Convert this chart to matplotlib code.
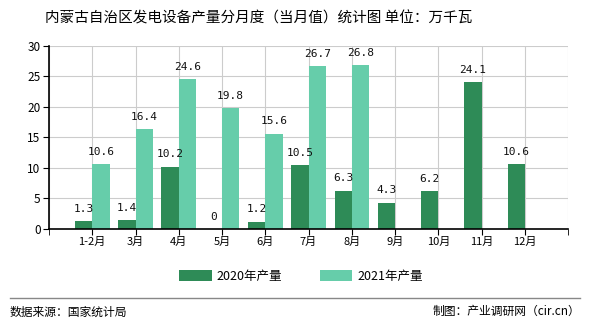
import matplotlib
matplotlib.use("Agg")
import matplotlib.pyplot as plt
import numpy as np

plt.rcParams['font.family'] = ['Noto Sans CJK SC', 'DejaVu Sans']

# monthly output, 10k kW
months = ['1-2月', '3月', '4月', '5月', '6月', '7月', '8月', '9月', '10月', '11月', '12月']
output_2020 = [1.3, 1.4, 10.2, 0, 1.2, 10.5, 6.3, 4.3, 6.2, 24.1, 10.6]
output_2021 = [10.6, 16.4, 24.6, 19.8, 15.6, 26.7, 26.8]

dark = '#2e8b57'
light = '#66cdaa'
w = 0.4

fig = plt.figure(figsize=(5.9, 3.3), dpi=100)
ax = fig.add_axes([0.083, 0.306, 0.880, 0.555])

x = np.arange(len(months))
x21 = np.arange(len(output_2021))
b1 = ax.bar(x - w / 2, output_2020, w, color=dark, label='2020年产量', zorder=3)
b2 = ax.bar(x21 + w / 2, output_2021, w, color=light, label='2021年产量', zorder=3)

for xi, v in zip(x, output_2020):
    ax.text(xi - w / 2, v + 1.2, f'{v:g}', ha='center', va='bottom',
            fontsize=8, family='DejaVu Sans Mono', color='#111111')
for xi, v in zip(x21, output_2021):
    ax.text(xi + w / 2, v + 1.2, f'{v:g}', ha='center', va='bottom',
            fontsize=8, family='DejaVu Sans Mono', color='#111111')

ax.set_xlim(-1, 11)
ax.set_ylim(0, 30)
ax.set_yticks(range(0, 31, 5))
ax.set_xticks(x)
ax.set_xticklabels(months, fontsize=8)
ax.set_xticks([-1, 11], minor=True)
ax.tick_params(axis='y', labelsize=8.5, length=4, pad=2)
ax.tick_params(axis='x', which='both', length=4, pad=2)
ax.grid(True, which='both', color='#cccccc', linewidth=0.8, zorder=0)
for side in ['top', 'right']:
    ax.spines[side].set_visible(False)
ax.spines['left'].set_linewidth(1.2)
ax.spines['bottom'].set_linewidth(1.2)
ax.spines['left'].set_zorder(4)
ax.spines['bottom'].set_zorder(4)

fig.legend(handles=[b1, b2], loc='center', bbox_to_anchor=(0.51, 0.163), ncol=2,
           frameon=False, fontsize=9, handlelength=2.6, handleheight=0.9,
           columnspacing=3, handletextpad=0.4)

fig.text(0.439, 0.945, '内蒙古自治区发电设备产量分月度（当月值）统计图 单位：万千瓦',
         ha='center', va='center', fontsize=10.5)

fig.add_artist(plt.Line2D([0.017, 0.983], [0.097, 0.097], color='#888888', linewidth=1))
fig.text(0.017, 0.055, '数据来源：国家统计局', ha='left', va='center', fontsize=8.5)
fig.text(0.983, 0.055, '制图：产业调研网（cir.cn）', ha='right', va='center', fontsize=8.5)

fig.savefig('out.png', dpi=100)
